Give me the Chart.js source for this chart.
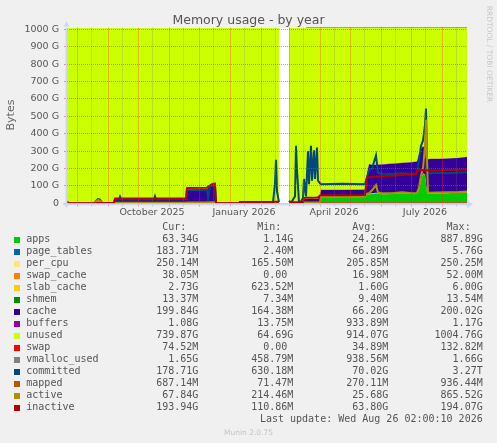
<!DOCTYPE html>
<html>
<head>
<meta charset="utf-8">
<script src="https://cdn.jsdelivr.net/npm/chart.js@4.4.1/dist/chart.umd.min.js"></script>
<style>
  body { margin: 0; background: #f0f0f0; }
  #wrap { position: relative; width: 497px; height: 443px; overflow: hidden; }
  #memChart { position: absolute; left: 0; top: 0; }
  .txt { position: absolute; white-space: pre; color: #555; }
  .mono { font: 10px 'DejaVu Sans Mono'; line-height: 12px; }
  .box { position: absolute; width: 6px; height: 6px; }
</style>
</head>
<body>
<div id="wrap">
  <canvas id="memChart" width="497" height="443"></canvas>
  <div class="txt" style="left:0;width:497px;top:11.5px;text-align:center;font:12.5px 'DejaVu Sans';line-height:15px;">Memory usage - by year</div>
  <div class="txt" style="left:-19.5px;top:107.5px;width:60px;text-align:center;font:11px 'DejaVu Sans';line-height:14px;color:#666;transform:rotate(-90deg);">Bytes</div>
  <div class="txt" style="left:433.5px;top:48.5px;width:110px;text-align:center;font:7.5px 'DejaVu Sans';line-height:10px;color:#c8c8c8;transform:rotate(90deg);">RRDTOOL / TOBI OETIKER</div>
  <div class="txt" style="left:0;width:497px;top:427.9px;text-align:center;font:7.5px 'DejaVu Sans';line-height:9px;color:#c4c4c4;">Munin 2.0.75</div>
  <div id="legend"></div>
</div>
<script>
// sample days, counted from 22 Jul 2025 (left edge of the graph)
const days = [0, 2, 27, 29, 31, 33, 35, 47, 48, 52,
  53, 54, 87, 88, 89, 119, 120, 140, 141, 143,
  146, 148, 149, 172, 173, 206, 208, 209, 210, 212,
  216, 222, 224, 228, 229, 230, 232, 234, 236, 237,
  239, 241, 242, 244, 245, 247, 248, 250, 251, 253,
  254, 275, 298, 300, 302, 305, 309, 311, 315, 325,
  335, 345, 349, 350, 352, 354, 356, 358, 359, 360,
  361, 363, 370, 380, 390, 400];

// values in G
const apps = [1.2, 1.2, 1.2, 4, 9, 7, 1.2, 1.2, 1.5, 1.5,
  1.5, 1.5, 1.5, 1.5, 1.5, 1.5, 2, 2, 2, 2,
  2, 2, 1.2, 1.2, 1.3, 1.3, 1.5, 1.5, 1.5, 1.3,
  null, 1.3, 1.3, 1.4, 1.5, 1.5, 1.3, 1.3, 1.4, 1.6,
  1.6, 1.7, 1.7, 1.7, 1.7, 1.7, 1.7, 1.7, 1.7, 2,
  35, 35, 36, 48, 52, 54, 58, 53, 52, 53,
  57, 53, 54, 56, 80, 130, 170, 160, 110, 60,
  55, 55, 56, 58, 60, 63.34];
const pageTables = [0.005, 0.005, 0.005, 0.005, 0.005, 0.005, 0.005, 0.005, 0.03, 0.03,
  0.03, 0.03, 0.03, 0.03, 0.03, 0.03, 0.03, 0.03, 0.03, 0.03,
  0.03, 0.03, 0.005, 0.005, 0.005, 0.005, 0.005, 0.005, 0.005, 0.005,
  null, 0.01, 0.01, 0.01, 0.01, 0.01, 0.01, 0.01, 0.01, 0.01,
  0.01, 0.01, 0.01, 0.01, 0.01, 0.01, 0.01, 0.01, 0.01, 0.05,
  0.05, 0.05, 0.05, 0.15, 0.15, 0.15, 0.15, 0.15, 0.15, 0.15,
  0.15, 0.15, 0.15, 0.15, 0.15, 0.15, 0.15, 0.15, 0.15, 0.15,
  0.15, 0.15, 0.15, 0.15, 0.15, 0.18];
const perCpu = [0.17, 0.17, 0.17, 0.17, 0.17, 0.17, 0.17, 0.17, 0.17, 0.17,
  0.17, 0.17, 0.17, 0.17, 0.17, 0.17, 0.17, 0.17, 0.17, 0.17,
  0.17, 0.17, 0.17, 0.17, 0.17, 0.17, 0.17, 0.17, 0.17, 0.17,
  null, 0.2, 0.2, 0.2, 0.2, 0.2, 0.2, 0.2, 0.2, 0.2,
  0.2, 0.2, 0.2, 0.2, 0.2, 0.2, 0.2, 0.2, 0.2, 0.2,
  0.2, 0.2, 0.2, 0.25, 0.25, 0.25, 0.25, 0.25, 0.25, 0.25,
  0.25, 0.25, 0.25, 0.25, 0.25, 0.25, 0.25, 0.25, 0.25, 0.25,
  0.25, 0.25, 0.25, 0.25, 0.25, 0.25];
const swapCache = [0, 0, 0, 0, 0, 0, 0, 0, 0, 0,
  0, 0, 0, 0, 0, 0, 0, 0, 0, 0,
  0, 0, 0, 0, 0, 0, 0, 0, 0, 0,
  null, 0, 0, 0, 0, 0, 0, 0, 0, 0.01,
  0.01, 0.01, 0.01, 0.01, 0.01, 0.01, 0.01, 0.01, 0.01, 0.01,
  0.01, 0.01, 0.01, 0.03, 0.03, 0.03, 0.03, 0.03, 0.03, 0.03,
  0.03, 0.03, 0.03, 0.03, 0.03, 0.03, 0.03, 0.03, 0.03, 0.03,
  0.03, 0.03, 0.03, 0.03, 0.03, 0.038];
const slabCache = [0.62, 0.62, 0.62, 0.62, 0.62, 0.62, 0.62, 0.62, 1, 1,
  1, 1, 1, 1, 1, 1, 1, 1, 1, 1,
  1, 1, 0.7, 0.7, 0.7, 0.7, 0.7, 0.7, 0.7, 0.7,
  null, 0.8, 0.8, 0.8, 0.8, 0.8, 0.8, 0.8, 0.8, 1.2,
  1.2, 1.2, 1.2, 1.2, 1.2, 1.2, 1.2, 1.2, 1.2, 1.8,
  1.8, 1.8, 1.8, 2.4, 2.4, 2.4, 2.4, 2.4, 2.4, 2.4,
  2.4, 2.4, 2.4, 2.4, 2.4, 2.4, 2.4, 2.4, 2.4, 2.4,
  2.4, 2.4, 2.4, 2.4, 2.4, 2.73];
const shmem = [0.008, 0.008, 0.008, 0.008, 0.008, 0.008, 0.008, 0.008, 0.008, 0.008,
  0.008, 0.008, 0.008, 0.008, 0.008, 0.008, 0.008, 0.008, 0.008, 0.008,
  0.008, 0.008, 0.008, 0.008, 0.008, 0.008, 0.008, 0.008, 0.008, 0.008,
  null, 0.01, 0.01, 0.01, 0.01, 0.01, 0.01, 0.01, 0.01, 0.01,
  0.01, 0.01, 0.01, 0.01, 0.01, 0.01, 0.01, 0.01, 0.01, 0.01,
  0.01, 0.01, 0.01, 0.01, 0.01, 0.01, 0.01, 0.01, 0.01, 0.01,
  0.01, 0.01, 0.01, 0.01, 0.01, 0.01, 0.01, 0.01, 0.01, 0.01,
  0.01, 0.01, 0.01, 0.01, 0.01, 0.0134];
const cache = [0.2, 0.2, 0.2, 1, 2, 2, 0.5, 0.5, 22, 22,
  22, 22, 22, 22, 22, 22, 73, 74, 85, 95,
  105, 106, 0.2, 0.2, 4, 4, 5, 6, 5, 4,
  null, 2, 2, 2, 3, 3, 2, 2, 2, 20,
  22, 22, 22, 23, 23, 23, 23, 23, 23, 40,
  40, 40, 40, 120, 170, 164, 160, 166, 168, 172,
  172, 180, 182, 182, 200, 180, 155, 150, 140, 185,
  196, 197, 196, 196, 197, 199.84];
const buffers = [0.02, 0.02, 0.02, 0.02, 0.02, 0.02, 0.02, 0.02, 0.5, 0.5,
  0.5, 0.5, 0.5, 0.5, 0.5, 0.5, 0.5, 0.5, 0.5, 0.5,
  0.5, 0.5, 0.02, 0.02, 0.1, 0.1, 0.1, 0.1, 0.1, 0.1,
  null, 0.05, 0.05, 0.05, 0.05, 0.05, 0.05, 0.05, 0.05, 0.3,
  0.3, 0.3, 0.3, 0.3, 0.3, 0.3, 0.3, 0.3, 0.3, 0.8,
  0.8, 0.8, 0.8, 1.1, 1.1, 1.1, 1.1, 1.1, 1.1, 1.1,
  1.1, 1.1, 1.1, 1.1, 1.1, 1.1, 1.1, 1.1, 1.1, 1.1,
  1.1, 1.1, 1.1, 1.1, 1.1, 1.08];
const unused = [1004.8, 1004.8, 1004.8, 1001.2, 995.2, 997.2, 1004.5, 1004.5, 981.8, 981.8,
  981.8, 981.8, 981.8, 981.8, 981.8, 981.8, 930.3, 929.3, 918.3, 908.3,
  898.3, 897.3, 1004.7, 1004.7, 1000.7, 1000.7, 999.5, 998.5, 999.5, 1000.7,
  null, 1002.6, 1002.6, 1002.5, 1001.4, 1001.4, 1002.6, 1002.6, 1002.5, 983.7,
  981.7, 981.6, 981.6, 980.6, 980.6, 980.6, 980.6, 980.6, 980.6, 962.1,
  929.1, 929.1, 928.1, 835.1, 781.1, 785.1, 785.1, 784.1, 783.1, 778.1,
  774.1, 770.1, 767.1, 765.1, 723.1, 693.1, 678.1, 693.1, 753.1, 758.1,
  752.1, 751.1, 751.1, 749.1, 746.1, 739.87];
const swap = [null, null, null, null, null, null, null, null, null, null,
  null, null, null, null, null, null, null, null, null, null,
  null, null, null, null, null, null, null, null, null, null,
  null, null, null, null, null, null, null, null, null, null,
  0.07, 0.07, 0.07, 0.07, 0.07, 0.07, 0.07, 0.07, 0.07, 0.07,
  0.07, 0.07, 0.07, 0.07, 0.07, 0.07, 0.07, 0.07, 0.07, 0.07,
  0.07, 0.07, 0.07, 0.07, 0.07, 0.07, 0.07, 0.07, 0.07, 0.07,
  0.07, 0.07, 0.07, 0.07, 0.07, 0.0745];
const vmallocUsed = [0.5, 0.5, 0.5, 0.5, 0.5, 0.5, 0.5, 0.5, 0.5, 0.5,
  0.5, 0.5, 0.5, 0.5, 0.5, 0.5, 0.5, 0.5, 0.5, 0.5,
  0.5, 0.5, 0.5, 0.5, 0.5, 0.5, 0.5, 0.5, 0.5, 0.5,
  null, 0.8, 0.8, 0.8, 0.8, 0.8, 0.8, 0.8, 0.8, 0.8,
  0.8, 0.8, 0.8, 0.8, 0.8, 0.8, 0.8, 0.8, 0.8, 1.6,
  1.6, 1.6, 1.6, 1.6, 1.6, 1.6, 1.6, 1.6, 1.6, 1.6,
  1.6, 1.6, 1.6, 1.6, 1.6, 1.6, 1.6, 1.6, 1.6, 1.6,
  1.6, 1.6, 1.6, 1.6, 1.6, 1.65];
const committed = [10, 1, 1, 14, 24, 21, 3, 2, 22, 22,
  38, 22, 22, 40, 22, 23, 75, 76, 30, 95,
  104, 100, 1, 1, 4, 5, 110, 250, 70, 6,
  null, 15, 3, 40, 330, 190, 6, 10, 30, 140,
  40, 300, 110, 330, 130, 305, 140, 320, 130, 115,
  110, 112, 110, 150, 190, 200, 275, 175, 170, 168,
  172, 170, 172, 176, 250, 330, 360, 450, 545, 250,
  178, 172, 175, 173, 176, 178.71];
const mapped = [0.1, 0.1, 0.1, 0.1, 0.1, 0.1, 0.1, 0.1, 0.1, 0.1,
  0.1, 0.1, 0.1, 0.1, 0.1, 0.1, 0.1, 0.1, 0.1, 0.1,
  0.1, 0.1, 0.1, 0.1, 0.1, 0.1, 0.1, 0.1, 0.1, 0.1,
  null, 0.15, 0.15, 0.15, 0.15, 0.15, 0.15, 0.15, 0.15, 0.15,
  0.15, 0.15, 0.15, 0.15, 0.15, 0.15, 0.15, 0.15, 0.15, 0.4,
  0.4, 0.4, 0.4, 0.65, 0.65, 0.65, 0.65, 0.65, 0.65, 0.65,
  0.65, 0.65, 0.65, 0.65, 0.65, 0.65, 0.65, 0.65, 0.65, 0.65,
  0.65, 0.65, 0.65, 0.65, 0.65, 0.687];
const active = [0.3, 0.3, 0.3, 10, 18, 15, 2, 1, 3, 3,
  3, 3, 3, 3, 3, 3, 5, 5, 5, 6,
  6, 6, 0.3, 0.3, 1, 1, 1, 1.5, 1, 1,
  null, 1, 1, 1, 2, 2, 1, 1, 2, 5,
  5, 5, 5, 5, 5, 5, 5, 5, 5, 6,
  38, 38, 39, 55, 58, 75, 105, 62, 58, 58,
  63, 58, 58, 60, 90, 160, 200, 330, 480, 250,
  62, 60, 62, 64, 63, 67.84];
const inactive = [0.5, 0.5, 0.5, 1, 2, 2, 2, 2, 27, 27,
  27, 27, 27, 27, 27, 27, 88, 89, 95, 103,
  112, 113, 0.5, 0.5, 8, 8, 9, 9, 9, 9,
  null, 6, 6, 6, 6, 6, 6, 6, 6, 30,
  32, 32, 32, 32, 32, 32, 32, 33, 33, 45,
  46, 46, 47, 148, 150, 152, 153, 154, 155, 158,
  163, 167, 168, 190, 190, 190, 190, 190, 190, 189,
  188, 188, 189, 191, 192, 193.94];

// axis ticks
const monthStarts = [10, 41, 71, 102, 132, 163, 194, 222, 253, 283, 314, 344, 375];
const midMonths = [24, 55, 85, 116, 146, 177, 208, 236, 267, 297, 328, 358, 389];
const xLabelDays = [85, 177, 267, 358];
const xLabelText = ['October 2025', 'January 2026', 'April 2026', 'July 2026'];
const yGrid = [0, 50, 100, 150, 200, 250, 300, 350, 400, 450, 500, 550, 600, 650, 700, 750, 800, 850, 900, 950, 1000];
const yLabelText = ['0', '100 G', '200 G', '300 G', '400 G', '500 G', '600 G', '700 G', '800 G', '900 G', '1000 G'];

// legend
const legendNames = ['apps', 'page_tables', 'per_cpu', 'swap_cache', 'slab_cache', 'shmem', 'cache', 'buffers',
  'unused', 'swap', 'vmalloc_used', 'committed', 'mapped', 'active', 'inactive'];
const legendColors = ['#00CC00', '#0066B3', '#FFE680', '#FF8000', '#FFCC00', '#008F00', '#330099', '#990099',
  '#CCFF00', '#FF0000', '#808080', '#00487D', '#B35A00', '#B38F00', '#B30000'];
const curText = ['63.34G', '183.71M', '250.14M', '38.05M', '2.73G', '13.37M', '199.84G', '1.08G',
  '739.87G', '74.52M', '1.65G', '178.71G', '687.14M', '67.84G', '193.94G'];
const minText = ['1.14G', '2.40M', '165.50M', '0.00 ', '623.52M', '7.34M', '164.38M', '13.75M',
  '64.69G', '0.00 ', '458.79M', '630.18M', '71.47M', '214.46M', '110.86M'];
const avgText = ['24.26G', '66.89M', '205.85M', '16.98M', '1.60G', '9.40M', '66.20G', '933.89M',
  '914.07G', '34.89M', '938.56M', '70.02G', '270.11M', '25.68G', '63.80G'];
const maxText = ['887.89G', '5.76G', '250.25M', '52.00M', '6.00G', '13.54M', '200.02G', '1.17G',
  '1004.76G', '132.82M', '1.66G', '3.27T', '936.44M', '865.52G', '194.07G'];

const MAJOR = 'rgba(240, 50, 50, 0.6)';
const MINOR = 'rgba(120, 120, 120, 0.45)';
const tickFont = { family: 'DejaVu Sans', size: 9.5 };

const pts = arr => days.map((d, i) => ({ x: d, y: arr[i] }));

const areaSeries = [
  [apps, '#00CC00'], [pageTables, '#0066B3'], [perCpu, '#FFE680'], [swapCache, '#FF8000'],
  [slabCache, '#FFCC00'], [shmem, '#008F00'], [cache, '#330099'], [buffers, '#990099'],
  [unused, '#CCFF00'], [swap, '#FF0000']
];
const lineSeries = [
  [vmallocUsed, '#808080', 4], [committed, '#00487D', 3], [mapped, '#B35A00', 2],
  [active, '#B38F00', 1], [inactive, '#B30000', 0]
];

const datasets = [];
areaSeries.forEach(([arr, col], i) => {
  datasets.push({
    data: pts(arr),
    fill: i === 0 ? 'origin' : '-1',
    backgroundColor: col,
    borderColor: col,
    borderWidth: col === '#FF0000' ? 2 : 0,
    pointRadius: 0,
    stack: 'mem',
    order: 10
  });
});
lineSeries.forEach(([arr, col, ord], i) => {
  datasets.push({
    data: pts(arr),
    fill: false,
    borderColor: col,
    borderWidth: 2,
    pointRadius: 0,
    stack: 'line' + i,
    order: ord
  });
});

const plotBg = {
  id: 'plotBg',
  beforeDraw(chart) {
    const { ctx, chartArea: a } = chart;
    ctx.save();
    ctx.fillStyle = '#ffffff';
    ctx.fillRect(a.left, a.top, a.right - a.left, a.bottom - a.top);
    ctx.restore();
  }
};

// axis lines with arrows, like rrdtool
const axisArrows = {
  id: 'axisArrows',
  afterDraw(chart) {
    const { ctx, chartArea: a } = chart;
    ctx.save();
    ctx.fillStyle = '#CFD6F8';
    ctx.fillRect(a.left - 4, a.bottom, a.right - a.left + 4, 2);
    ctx.fillRect(a.left - 1.5, a.top, 2, a.bottom - a.top + 4);
    ctx.beginPath();
    ctx.moveTo(a.right, a.bottom - 3);
    ctx.lineTo(a.right + 6, a.bottom + 1);
    ctx.lineTo(a.right, a.bottom + 5);
    ctx.closePath();
    ctx.fill();
    ctx.beginPath();
    ctx.moveTo(a.left - 3.5, a.top - 1);
    ctx.lineTo(a.left - 0.5, a.top - 6);
    ctx.lineTo(a.left + 2.5, a.top - 1);
    ctx.closePath();
    ctx.fill();
    ctx.restore();
  }
};

new Chart(document.getElementById('memChart'), {
  type: 'line',
  data: { datasets },
  options: {
    responsive: false,
    animation: false,
    devicePixelRatio: 1,
    events: [],
    layout: { padding: { left: 0, right: 30, top: 27.56, bottom: 214.7 } },
    elements: { line: { tension: 0 } },
    plugins: { legend: { display: false }, tooltip: { enabled: false }, title: { display: false } },
    scales: {
      x: {
        type: 'linear',
        min: 0,
        max: 400,
        afterBuildTicks: s => { s.ticks = monthStarts.concat(midMonths).map(v => ({ value: v })); },
        afterFit: s => { s.height = 25; },
        grid: { z: 1, color: c => monthStarts.includes(c.tick.value) ? MAJOR : MINOR, tickLength: 3 },
        border: { display: false, dash: [1, 1] },
        ticks: {
          autoSkip: false, maxRotation: 0, padding: 1, color: '#555', font: tickFont,
          callback: v => { const k = xLabelDays.indexOf(v); return k < 0 ? '' : xLabelText[k]; }
        }
      },
      y: {
        min: 0,
        max: 1010,
        stacked: true,
        afterBuildTicks: s => { s.ticks = yGrid.map(v => ({ value: v })); },
        afterFit: s => { s.width = 67; },
        grid: { z: 1, color: c => c.tick.value % 100 === 0 ? MAJOR : MINOR, tickLength: 3 },
        border: { display: false, dash: [1, 1] },
        ticks: {
          padding: 5, color: '#555', font: tickFont,
          callback: v => v % 100 === 0 ? yLabelText[v / 100] : ''
        }
      }
    }
  },
  plugins: [plotBg, axisArrows]
});

// legend table under the graph
const legend = document.getElementById('legend');
function put(text, x, base, right) {
  const el = document.createElement('div');
  el.className = 'txt mono';
  el.textContent = text;
  el.style.top = (base - 9.46) + 'px';
  if (right) el.style.right = (497 - x) + 'px';
  else el.style.left = x + 'px';
  legend.appendChild(el);
}
const colEdges = [198.3, 293.3, 388.3, 482.7];
['Cur:  ', 'Min:  ', 'Avg:  ', 'Max:  '].forEach((h, k) => put(h, colEdges[k], 230.7, true));
legendNames.forEach((name, i) => {
  const base = 242.7 + 12 * i;
  const sq = document.createElement('div');
  sq.className = 'box';
  sq.style.left = '14px';
  sq.style.top = (base - 5.6) + 'px';
  sq.style.background = legendColors[i];
  legend.appendChild(sq);
  put(name, 26.3, base, false);
  put(curText[i], colEdges[0], base, true);
  put(minText[i], colEdges[1], base, true);
  put(avgText[i], colEdges[2], base, true);
  put(maxText[i], colEdges[3], base, true);
});
put('Last update: Wed Aug 26 02:00:10 2026', 482.7, 422.7, true);
</script>
</body>
</html>
